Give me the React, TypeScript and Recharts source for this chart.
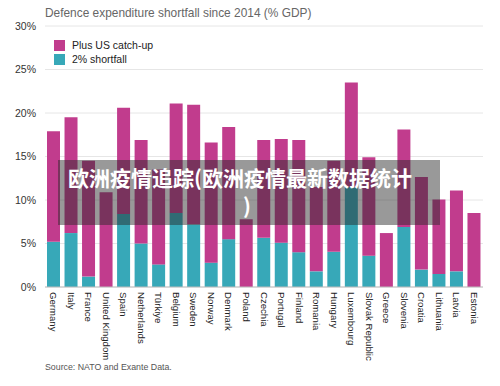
import React from 'react';
import { BarChart, Bar, XAxis, YAxis, CartesianGrid } from 'recharts';

const countries = ['Germany', 'Italy', 'France', 'United Kingdom', 'Spain', 'Netherlands', 'Türkiye', 'Belgium', 'Sweden', 'Norway', 'Denmark', 'Poland', 'Czechia', 'Portugal', 'Finland', 'Romania', 'Hungary', 'Luxembourg', 'Slovak Republic', 'Greece', 'Slovenia', 'Croatia', 'Lithuania', 'Latvia', 'Estonia'];
const shortfall = [5.2, 6.2, 1.2, 0, 8.4, 5.0, 2.6, 8.5, 7.2, 2.8, 5.5, 0, 5.65, 5.1, 4.0, 1.8, 4.05, 11.5, 3.6, 0, 6.9, 2.0, 1.5, 1.8, 0];
const catchUp = [12.7, 13.3, 13.3, 10.9, 12.2, 11.9, 10.9, 12.6, 13.75, 13.8, 12.9, 7.8, 11.25, 11.9, 12.9, 9.7, 10.45, 12.0, 11.3, 6.2, 11.2, 10.65, 8.55, 9.3, 8.5];
const yTicks = [0, 5, 10, 15, 20, 25, 30];

const title = 'Defence expenditure shortfall since 2014 (% GDP)';
const legendLabels = ['Plus US catch-up', '2% shortfall'];
const source = 'Source: NATO and Exante Data.';
const bannerLine1 = '欧洲疫情追踪(欧洲疫情最新数据统计';
const bannerLine2 = ')';

const MAGENTA = '#C13C8D';
const TEAL = '#37A8B8';

const data = countries.map((c, i) => ({ name: c, shortfall: shortfall[i], catchUp: catchUp[i] }));

const FONT = 'Liberation Sans, Arial, Helvetica, sans-serif';

const XTick = (props: any) => {
  const { x, y, payload } = props;
  return (
    <text
      x={x}
      y={y}
      transform={`rotate(90, ${x}, ${y})`}
      textAnchor="start"
      dominantBaseline="central"
      fontSize={9.6}
      fontFamily={FONT}
      fill="#222"
    >
      {payload.value}
    </text>
  );
};

export default function App() {
  return (
    <div style={{ position: 'absolute', left: 0, top: 0, width: 500, height: 386, background: '#fff', fontFamily: FONT }}>
      <BarChart
        width={500}
        height={386}
        data={data}
        margin={{ top: 26, right: 17, bottom: 0, left: 0 }}
        barSize={13}
      >
        <CartesianGrid vertical={false} stroke="#e6e6e6" />
        <XAxis
          dataKey="name"
          interval={0}
          height={99}
          tickLine={false}
          axisLine={{ stroke: '#bdbdbd' }}
          tick={<XTick />}
          tickSize={0}
          tickMargin={5}
        />
        <YAxis
          domain={[0, 30]}
          ticks={yTicks}
          width={45}
          tickLine={false}
          axisLine={false}
          tickFormatter={(v: number) => `${v}%`}
          tick={{ fontSize: 10.5, fill: '#333', fontFamily: FONT }}
          tickMargin={3}
        />
        <Bar dataKey="shortfall" stackId="a" fill={TEAL} isAnimationActive={false} />
        <Bar dataKey="catchUp" stackId="a" fill={MAGENTA} isAnimationActive={false} />
      </BarChart>

      <div style={{ position: 'absolute', left: 45, top: 6, fontSize: 11.9, color: '#666', whiteSpace: 'nowrap' }}>{title}</div>

      <div style={{ position: 'absolute', left: 54, top: 38 }}>
        {legendLabels.map((l, i) => (
          <div key={l} style={{ display: 'flex', alignItems: 'center', height: 14, fontSize: 10.5, color: '#222' }}>
            <span style={{ display: 'inline-block', width: 11, height: 11, background: i === 0 ? MAGENTA : TEAL, marginRight: 7 }} />
            <span>{l}</span>
          </div>
        ))}
      </div>

      <div style={{ position: 'absolute', left: 45, top: 362, fontSize: 8.8, color: '#555', whiteSpace: 'nowrap' }}>{source}</div>

      <div
        style={{
          position: 'absolute',
          left: 58,
          top: 160,
          width: 382,
          height: 65,
          background: 'rgba(42,42,42,0.48)',
          color: '#fff',
          fontFamily: '"Noto Sans CJK SC", sans-serif',
          fontWeight: 700,
          fontSize: 21,
          lineHeight: '28px',
          textAlign: 'center',
          paddingRight: 18,
          boxSizing: 'border-box',
          paddingTop: 3,
        }}
      >
        <div>{bannerLine1}</div>
        <div style={{ paddingLeft: 14 }}>{bannerLine2}</div>
      </div>
    </div>
  );
}
